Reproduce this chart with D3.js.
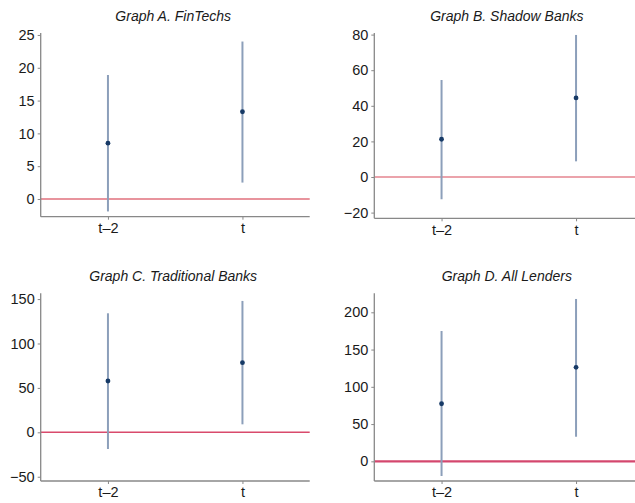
<!DOCTYPE html>
<html><head><meta charset="utf-8">
<script src="https://cdn.jsdelivr.net/npm/d3@7"></script>
<style>body{margin:0;background:#fff;} svg{display:block;}</style>
</head><body>
<script>
const categories = ["t\u20132", "t"];
const titles = ["Graph A. FinTechs", "Graph B. Shadow Banks", "Graph C. Traditional Banks", "Graph D. All Lenders"];
const estA = [8.5, 13.3], lowA = [-1.9, 2.5], highA = [18.9, 24.0];
const estB = [21.2, 44.4], lowB = [-12.5, 8.8], highB = [54.5, 79.8];
const estC = [57.8, 78.4], lowC = [-18.8, 9.0], highC = [134, 147.9];
const estD = [77.3, 126.2], lowD = [-19.7, 33], highD = [174.9, 217.9];
const ticksA = [0, 5, 10, 15, 20, 25];
const ticksB = [-20, 0, 20, 40, 60, 80];
const ticksC = [-50, 0, 50, 100, 150];
const ticksD = [0, 50, 100, 150, 200];
const domA = [-2.7, 25.3], domB = [-23.2, 80.9], domC = [-54.8, 156.5], domD = [-26.4, 225.5];

const panels = [
  {title: titles[0], est: estA, low: lowA, high: highA, ticks: ticksA, dom: domA, x0: 40.7, y0: 33, y1: 216.7, zc: "#e0707c", zw: 1.5},
  {title: titles[1], est: estB, low: lowB, high: highB, ticks: ticksB, dom: domB, x0: 374.3, y0: 33, y1: 218.3, zc: "#eba3ab", zw: 2},
  {title: titles[2], est: estC, low: lowC, high: highC, ticks: ticksC, dom: domC, x0: 40.7, y0: 293.3, y1: 481, zc: "#d94a6c", zw: 1.6},
  {title: titles[3], est: estD, low: lowD, high: highD, ticks: ticksD, dom: domD, x0: 374.3, y0: 293.3, y1: 481, zc: "#d4476e", zw: 2.2}
];
const W = 269;
const svg = d3.select("body").append("svg").attr("width", 635).attr("height", 503)
  .style("font-family", "'Liberation Sans', Arial, Helvetica, sans-serif");

panels.forEach(p => {
  const g = svg.append("g");
  const x = d3.scalePoint().domain(categories).range([p.x0, p.x0 + W]).padding(0.5);
  const y = d3.scaleLinear().domain(p.dom).range([p.y1, p.y0]);
  g.append("line").attr("x1", p.x0).attr("x2", p.x0 + W).attr("y1", y(0)).attr("y2", y(0))
    .attr("stroke", p.zc).attr("stroke-width", p.zw);
  const ya = g.append("g").attr("transform", `translate(${p.x0},0)`)
    .call(d3.axisLeft(y).tickValues(p.ticks).tickSize(3).tickPadding(3).tickFormat(d3.format("d")));
  ya.select(".domain").attr("stroke", "#888").attr("stroke-width", 1.3).attr("d", `M0,${p.y0}V${p.y1}`);
  ya.selectAll(".tick line").attr("stroke", "#888");
  ya.selectAll(".tick text").attr("font-size", 14.5).attr("fill", "#1a1a1a").attr("font-family", "'Liberation Sans', Arial, sans-serif");
  const xa = g.append("g").attr("transform", `translate(0,${p.y1})`)
    .call(d3.axisBottom(x).tickSize(3).tickPadding(3));
  xa.select(".domain").attr("stroke", "#888").attr("stroke-width", 1.3).attr("d", `M${p.x0},0H${p.x0 + W}`);
  xa.selectAll(".tick line").attr("stroke", "#888");
  xa.selectAll(".tick text").attr("font-size", 14.5).attr("fill", "#1a1a1a").attr("font-family", "'Liberation Sans', Arial, sans-serif");
  categories.forEach((c, i) => {
    g.append("line").attr("x1", x(c)).attr("x2", x(c)).attr("y1", y(p.low[i])).attr("y2", y(p.high[i]))
      .attr("stroke", "#8c9fba").attr("stroke-width", 2);
    g.append("circle").attr("cx", x(c)).attr("cy", y(p.est[i])).attr("r", 2.4).attr("fill", "#173a66");
  });
  g.append("text").attr("x", p.x0 + W * 0.5 - 2).attr("y", p.y0 - 12).attr("text-anchor", "middle")
    .attr("font-style", "italic").attr("font-size", 14).attr("fill", "#1a1a1a").text(p.title);
});
</script>
</body></html>
